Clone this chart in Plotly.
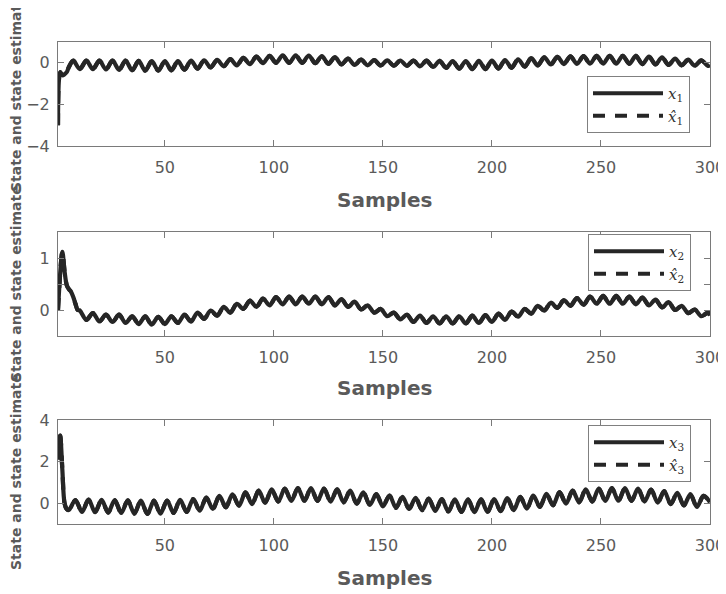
import plotly.graph_objects as go

# ---------------- data ----------------
x1_samples = [1, 2, 3, 4, 5, 6, 8] + list(range(11, 300, 3)) + [300]
x1_values = [-3.0, -0.45, -0.6, -0.55, -0.45, -0.2, 0.1,
             -0.30, 0.10, -0.30, 0.10, -0.32, 0.10, -0.34, 0.10, -0.36, 0.09,
             -0.38, 0.08, -0.38, 0.08, -0.36, 0.08, -0.33, 0.10, -0.28, 0.12,
             -0.22, 0.14, -0.17, 0.18, -0.12, 0.24, -0.06, 0.30, -0.02, 0.34,
             0.00, 0.36, 0.00, 0.36, 0.00, 0.35, -0.02, 0.32, -0.05, 0.27,
             -0.08, 0.20, -0.10, 0.15, -0.12, 0.13, -0.13, 0.12, -0.14, 0.11,
             -0.15, 0.11, -0.17, 0.10, -0.20, 0.09, -0.24, 0.08, -0.28, 0.08,
             -0.30, 0.09, -0.30, 0.10, -0.28, 0.13, -0.24, 0.17, -0.18, 0.22,
             -0.12, 0.26, -0.08, 0.29, -0.06, 0.31, -0.05, 0.32, -0.04, 0.33,
             -0.04, 0.34, -0.04, 0.34, -0.05, 0.33, -0.06, 0.30, -0.08, 0.26,
             -0.10, 0.20, -0.12, 0.15, -0.14, 0.12, -0.15,
             -0.10]

x2_samples = [1, 3, 4, 5, 6, 7, 8, 9, 10] + list(range(11, 300, 3)) + [300]
x2_values = [0.0, 1.12, 0.75, 0.48, 0.40, 0.35, 0.25, 0.12, 0.0,
             -0.01, -0.19, -0.06, -0.22, -0.09, -0.23, -0.09, -0.25, -0.12, -0.27,
             -0.12, -0.28, -0.13, -0.27, -0.12, -0.25, -0.09, -0.22, -0.05, -0.17,
             -0.01, -0.11, 0.06, -0.05, 0.12, 0.02, 0.18, 0.06, 0.22, 0.09,
             0.25, 0.11, 0.26, 0.11, 0.26, 0.12, 0.26, 0.11, 0.25, 0.09,
             0.21, 0.06, 0.16, 0.01, 0.09, -0.05, 0.02, -0.12, -0.05, -0.18,
             -0.09, -0.23, -0.11, -0.25, -0.12, -0.26, -0.12, -0.26, -0.12, -0.26,
             -0.11, -0.25, -0.10, -0.23, -0.07, -0.19, -0.03, -0.13, 0.02, -0.07,
             0.08, -0.01, 0.14, 0.04, 0.19, 0.08, 0.23, 0.10, 0.26, 0.12,
             0.27, 0.12, 0.27, 0.12, 0.26, 0.11, 0.24, 0.09, 0.20, 0.05,
             0.15, 0.00, 0.08, -0.06, 0.01, -0.12, -0.05,
             -0.10]

x3_samples = [1, 2, 3, 4, 5, 6] + list(range(9, 300, 3)) + [300]
x3_values = [2.1, 3.25, 1.6, 0.0, -0.28, -0.33,
             0.15, -0.42, 0.17, -0.43, 0.16, -0.45, 0.15, -0.47, 0.14, -0.50,
             0.12, -0.52, 0.12, -0.50, 0.13, -0.47, 0.16, -0.42, 0.20, -0.36,
             0.27, -0.28, 0.35, -0.20, 0.43, -0.12, 0.52, -0.04, 0.60, 0.03,
             0.66, 0.08, 0.70, 0.11, 0.72, 0.12, 0.72, 0.11, 0.70, 0.08,
             0.66, 0.04, 0.60, -0.02, 0.52, -0.08, 0.44, -0.15, 0.37, -0.22,
             0.31, -0.28, 0.26, -0.33, 0.22, -0.37, 0.20, -0.40, 0.19, -0.42,
             0.18, -0.43, 0.18, -0.42, 0.20, -0.38, 0.24, -0.33, 0.30, -0.26,
             0.37, -0.18, 0.45, -0.10, 0.53, -0.02, 0.60, 0.04, 0.66, 0.08,
             0.70, 0.11, 0.72, 0.12, 0.72, 0.11, 0.70, 0.08, 0.65, 0.03,
             0.58, -0.04, 0.50, -0.11, 0.43, -0.18, 0.35,
             0.05]

x_tick_vals = [50, 100, 150, 200, 250, 300]
y1_ticks = [-4, -2, 0]
y2_ticks = [0, 0.5, 1]
y2_ticktext = ["0", "", "1"]
y3_ticks = [0, 2, 4]

series = [
    (x1_samples, x1_values, "1"),
    (x2_samples, x2_values, "2"),
    (x3_samples, x3_values, "3"),
]

# ---------------- styling ----------------
PAGE_OFF = 8            # default page margin around the plot div
W, H = 718, 586
LINE = "#262626"
AX = "#7a7a7a"
TXT = "#5a5a5a"

def fx(p):
    return (p - PAGE_OFF) / W

def fy(p):
    return 1 - (p - PAGE_OFF) / H

fig = go.Figure()
legend_names = ["legend", "legend2", "legend3"]
for i, (xs, ys, idx) in enumerate(series):
    ax = "" if i == 0 else str(i + 1)
    fig.add_trace(go.Scatter(
        x=xs, y=ys, mode="lines", name=f"<i>x</i><sub>{idx}</sub>",
        line=dict(color=LINE, width=4.2, shape="spline", smoothing=0.9),
        xaxis="x" + ax, yaxis="y" + ax, legend=legend_names[i]))
    fig.add_trace(go.Scatter(
        x=xs, y=ys, mode="lines", name=f"<i>x\u0302</i><sub>{idx}</sub>",
        line=dict(color=LINE, width=4.2, dash="12px,10px", shape="spline", smoothing=0.9),
        xaxis="x" + ax, yaxis="y" + ax, legend=legend_names[i]))

tickfont = dict(family="DejaVu Sans", size=16, color=TXT)
common_x = dict(range=[1, 300], tickvals=x_tick_vals, ticks="inside", ticklen=6,
                tickcolor=AX, showline=True, linecolor=AX, linewidth=1,
                mirror="ticks", showgrid=False, zeroline=False, tickfont=tickfont,
                automargin=False, ticklabelstandoff=7,
                domain=[fx(58), fx(710)])
common_y = dict(ticks="inside", ticklen=6, tickcolor=AX, showline=True,
                linecolor=AX, linewidth=1, mirror="ticks", showgrid=False,
                zeroline=False, tickfont=tickfont, automargin=False,
                ticklabelstandoff=4)

boxes = [(42, 146), (232, 336), (420, 524)]

layout = dict(
    template="none",
    width=W, height=H, paper_bgcolor="white", plot_bgcolor="white",
    margin=dict(l=0, r=0, t=0, b=0), showlegend=True,
    xaxis=dict(common_x, anchor="y"),
    xaxis2=dict(common_x, anchor="y2"),
    xaxis3=dict(common_x, anchor="y3"),
    yaxis=dict(common_y, anchor="x", range=[-4, 1], tickvals=y1_ticks,
               domain=[fy(boxes[0][1]), fy(boxes[0][0])]),
    yaxis2=dict(common_y, anchor="x2", range=[-0.5, 1.5], tickvals=y2_ticks,
                ticktext=y2_ticktext, domain=[fy(boxes[1][1]), fy(boxes[1][0])]),
    yaxis3=dict(common_y, anchor="x3", range=[-1, 4], tickvals=y3_ticks,
                domain=[fy(boxes[2][1]), fy(boxes[2][0])]),
)

legend_pos = [(587, 76), (588, 234), (588, 425)]
for name, (lx, ly) in zip(legend_names, legend_pos):
    layout[name] = dict(x=fx(lx), y=fy(ly), xanchor="left", yanchor="top",
                        bgcolor="white", bordercolor="#808080", borderwidth=1,
                        font=dict(family="DejaVu Serif", size=15, color="#333333"),
                        itemwidth=70, tracegroupgap=0)

fig.update_layout(**layout)

ann = []
title_font = dict(family="DejaVu Sans", size=14, color=TXT, weight="bold")
xt_font = dict(family="DejaVu Sans", size=20, color=TXT, weight="bold")
samples_y = [200, 388, 578]
for (top, bot), sy in zip(boxes, samples_y):
    ann.append(dict(text="State and state estimate", x=fx(16), y=fy((top + bot) / 2),
                    xref="paper", yref="paper", textangle=-90, showarrow=False,
                    xanchor="center", yanchor="middle", font=title_font))
    ann.append(dict(text="Samples", x=fx(384), y=fy(sy), xref="paper", yref="paper",
                    showarrow=False, xanchor="center", yanchor="middle", font=xt_font))
fig.update_layout(annotations=ann)

fig.write_html("out.html")
